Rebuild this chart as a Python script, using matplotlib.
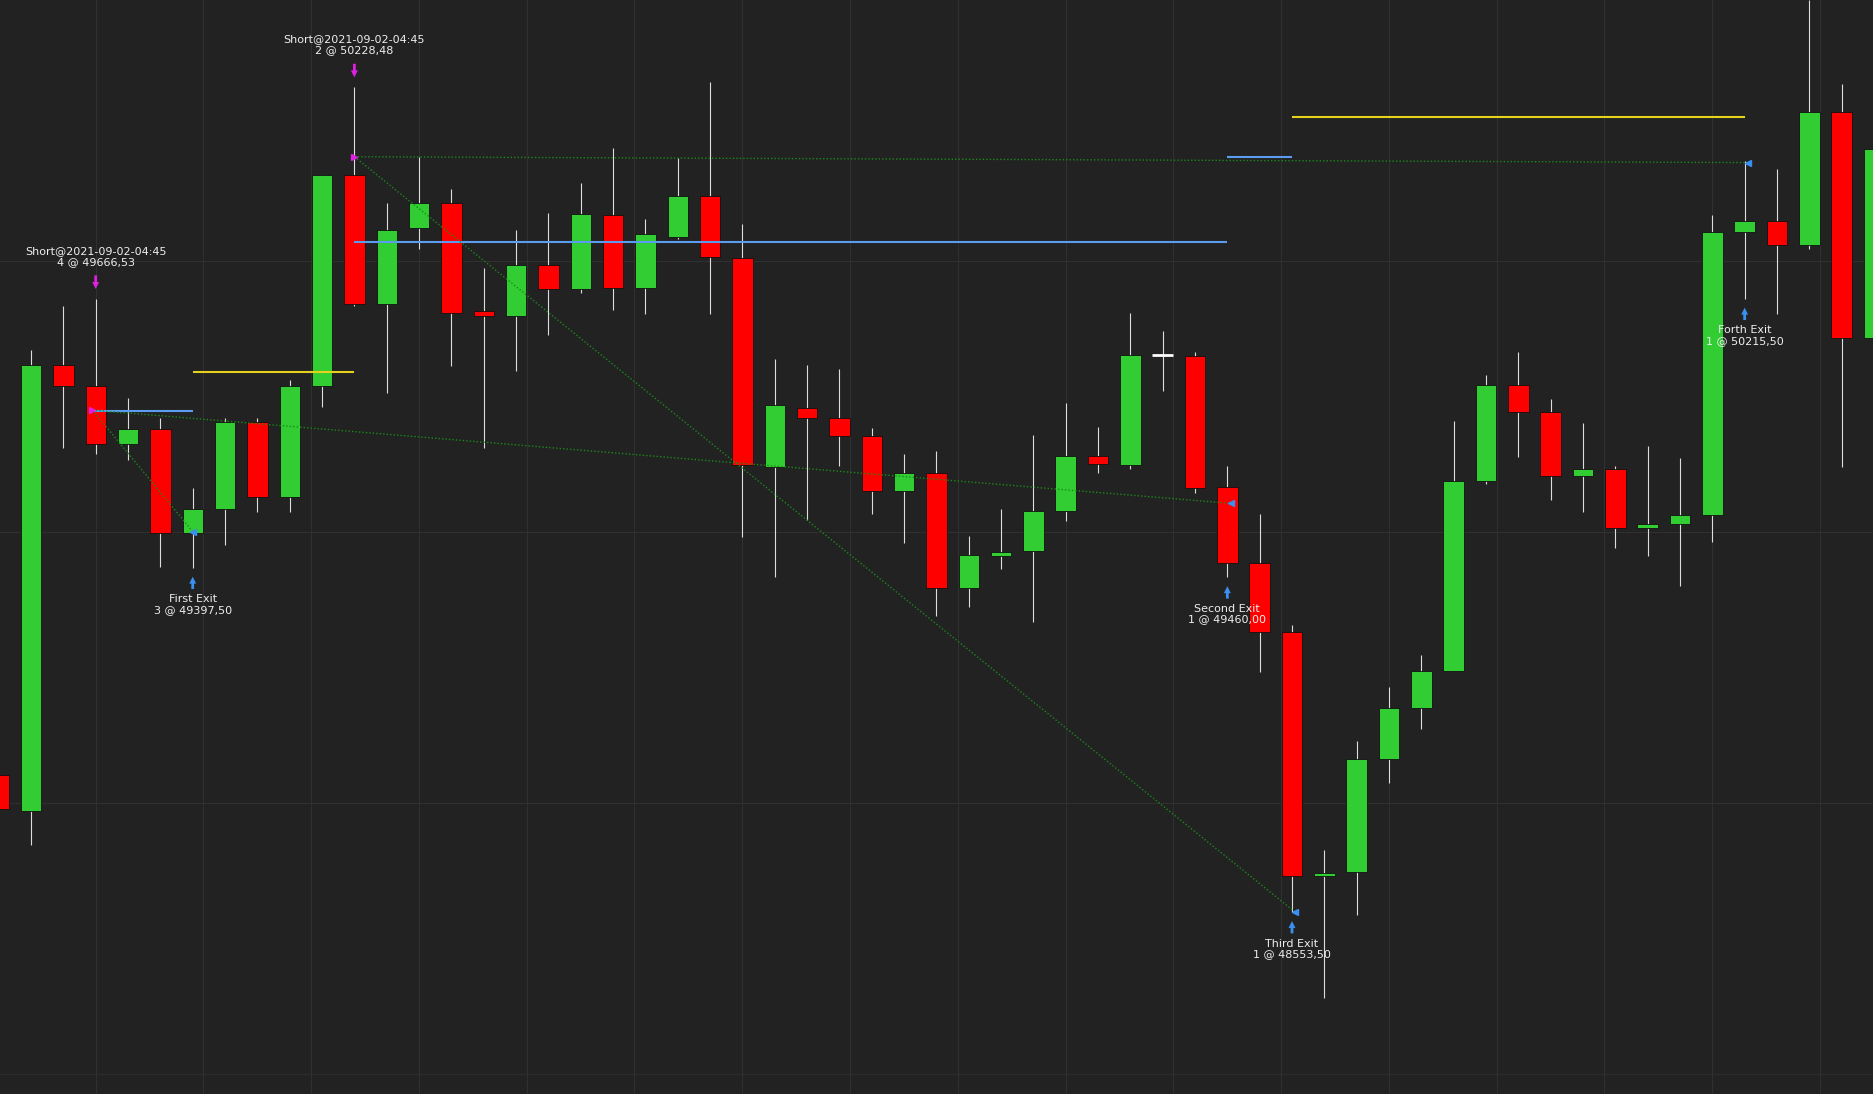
import matplotlib.pyplot as plt

# candle levels (screen rows, converted to price below)
opens_y = [648, 678, 305, 323, 371, 359, 446, 426, 353, 416, 323, 146, 254, 191, 170, 260, 264, 222, 242, 180,
           241, 198, 164, 216, 391, 341, 350, 365, 411, 396, 492, 465, 461, 427, 381, 389, 297, 298, 407, 471,
           529, 733, 729, 635, 592, 561, 402, 322, 345, 398, 392, 442, 438, 431, 194, 185, 205, 94, 283]
closes_y = [677, 305, 323, 371, 359, 446, 426, 353, 416, 323, 146, 254, 192, 170, 262, 264, 222, 242, 179, 241,
            196, 164, 215, 389, 339, 350, 365, 411, 396, 492, 464, 462, 427, 381, 388, 297, 298, 408, 471, 529,
            733, 730, 635, 592, 561, 402, 322, 345, 398, 392, 442, 438, 431, 194, 185, 205, 94, 283, 125]
highs_y = [640, 293, 256, 250, 333, 350, 408, 350, 350, 318, 146, 73, 170, 131, 158, 224, 192, 178, 153, 124,
           183, 132, 69, 187, 300, 305, 309, 358, 380, 377, 448, 426, 364, 337, 357, 262, 277, 294, 390, 430,
           523, 711, 620, 575, 548, 352, 314, 294, 334, 354, 390, 373, 383, 180, 135, 141, 0, 70, 100]
lows_y = [690, 707, 375, 380, 385, 474, 475, 456, 428, 428, 340, 256, 329, 208, 306, 375, 310, 280, 245, 259,
          263, 200, 263, 449, 483, 435, 390, 430, 454, 515, 508, 476, 520, 436, 396, 392, 327, 412, 483, 562,
          763, 835, 765, 655, 610, 561, 405, 382, 418, 428, 458, 465, 490, 453, 250, 263, 208, 391, 309]

def to_price(y):
    return 50576 - 2.651 * y

opens = [to_price(v) for v in opens_y]
closes = [to_price(v) for v in closes_y]
highs = [to_price(v) for v in highs_y]
lows = [to_price(v) for v in lows_y]

# trades: (bar index, price)
entries = [(2.9, 49666.53, "Short@2021-09-02-04:45\n4 @ 49666,53", 3),
           (11.0, 50228.48, "Short@2021-09-02-04:45\n2 @ 50228,48", 11)]
exits = [(6.0, 49397.50, "First Exit\n3 @ 49397,50", 6),
         (38.1, 49460.00, "Second Exit\n1 @ 49460,00", 38),
         (40.1, 48553.50, "Third Exit\n1 @ 48553,50", 40),
         (54.1, 50215.50, "Forth Exit\n1 @ 50215,50", 54)]
trade_links = [(0, 0), (0, 1), (1, 2), (1, 3)]
blue_levels = [(2.9, 6.0, 49664), (11.0, 38.0, 50040), (38.0, 40.0, 50229)]
yellow_levels = [(6.0, 11.0, 49752), (40.0, 54.0, 50316)]

bg = '#222222'
fig = plt.figure(figsize=(18.74, 10.94), dpi=100, facecolor=bg)
ax = fig.add_axes([0, 0, 1, 1])
ax.set_facecolor(bg)

y_top, y_bot = to_price(0), to_price(915)
ax.set_xlim(0.04, 58.0)
ax.set_ylim(y_bot, y_top)

for gx in [3, 6.33, 9.66, 13, 16.33, 19.66, 23, 26.33, 29.66, 33, 36.33, 39.66, 43, 46.33, 49.66, 53, 56.33]:
    ax.axvline(gx, color='#303030', lw=0.8, zorder=0)
for gy in [218, 445, 672]:
    ax.axhline(to_price(gy), color='#303030', lw=0.8, zorder=0)

for i, (o, c, h, l) in enumerate(zip(opens, closes, highs, lows)):
    ax.vlines(i, l, h, color='#dddddd', lw=0.8, zorder=2)
    if abs(c - o) < 3:
        col = '#ffffff' if i == 36 else '#32cd32'
        ax.hlines(o, i - 0.32, i + 0.32, color=col, lw=2, zorder=3)
        continue
    col = '#32cd32' if c > o else '#ff0000'
    ax.bar(i, abs(c - o), bottom=min(o, c), width=0.63, color=col,
           edgecolor='#111111', lw=0.6, zorder=3)

for x0, x1, y in blue_levels:
    ax.hlines(y, x0, x1, color='#5b9bf0', lw=1.5, zorder=4)
for x0, x1, y in yellow_levels:
    ax.hlines(y, x0, x1, color='#e6d21e', lw=1.5, zorder=4)

for a, b in trade_links:
    ax.plot([entries[a][0], exits[b][0]], [entries[a][1], exits[b][1]],
            color='#1a8a1a', lw=1, ls=(0, (1, 1.5)), zorder=5)

step = 2.651
for x, p, label, bar in entries:
    ax.plot(x, p, marker='>', color='#e020e0', ms=5, zorder=6)
    top = highs[bar]
    ax.annotate('', xy=(bar, top + 6 * step), xytext=(bar, top + 22 * step),
                arrowprops=dict(arrowstyle='simple', color='#e020e0', lw=0), zorder=6)
    ax.text(bar, top + 27 * step, label, color='#eeeeee', fontsize=8,
            ha='center', va='bottom', linespacing=1.1)

for x, p, label, bar in exits:
    ax.plot(x, p, marker='<', color='#3b8ff0', ms=5, zorder=6)
    bot = lows[bar]
    ax.annotate('', xy=(bar, bot - 5 * step), xytext=(bar, bot - 20 * step),
                arrowprops=dict(arrowstyle='simple', color='#3b8ff0', lw=0), zorder=6)
    ax.text(bar, bot - 22 * step, label, color='#eeeeee', fontsize=8,
            ha='center', va='top', linespacing=1.1)

ax.axhline(to_price(898), color='#2c2c2c', lw=1)
ax.axis('off')
fig.savefig('out.png', dpi=100, facecolor=bg)
